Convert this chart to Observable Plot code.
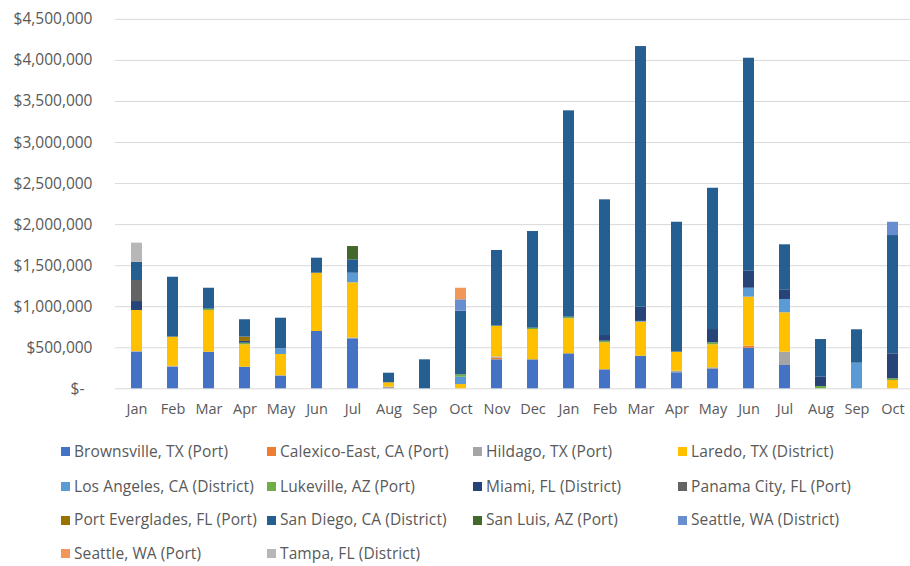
<!DOCTYPE html>
<html>
<head>
<meta charset="utf-8">
<script src="https://cdn.jsdelivr.net/npm/d3@7"></script>
<script src="https://cdn.jsdelivr.net/npm/@observablehq/plot@0.6"></script>
<style>
  html, body { margin: 0; padding: 0; background: #fff; overflow: hidden; }
  #wrap { position: relative; width: 910px; height: 566px; font-family: "Open Sans", sans-serif; }
  #wrap svg { position: absolute; left: 0; top: 0; overflow: visible; }
  .item { position: absolute; display: flex; align-items: center; white-space: nowrap;
          font-size: 15.5px; letter-spacing: 0.1px; color: #595959; line-height: 1; }
  .sw { width: 9px; height: 9px; margin-right: 4px; flex: none; }
</style>
</head>
<body>
<div id="wrap"></div>
<script>
// ---- data ----
const monthLabels = ["Jan","Feb","Mar","Apr","May","Jun","Jul","Aug","Sep","Oct","Nov","Dec",
                     "Jan","Feb","Mar","Apr","May","Jun","Jul","Aug","Sep","Oct"];

const seriesNames = [
  "Brownsville, TX (Port)", "Calexico-East, CA (Port)", "Hildago, TX (Port)", "Laredo, TX (District)",
  "Los Angeles, CA (District)", "Lukeville, AZ (Port)", "Miami, FL (District)", "Panama City, FL (Port)",
  "Port Everglades, FL (Port)", "San Diego, CA (District)", "San Luis, AZ (Port)", "Seattle, WA (District)",
  "Seattle, WA (Port)", "Tampa, FL (District)"
];
const seriesColors = [
  "#4472C4", "#ED7D31", "#A5A5A5", "#FFC000",
  "#5B9BD5", "#70AD47", "#264478", "#636363",
  "#997300", "#255E91", "#43682B", "#698ED0",
  "#F1975A", "#B7B7B7"
];

const brownsville    = [446000,263000,446000,263000,150000,698000,609000,0,0,0,353000,353000,426000,223000,397000,195000,235000,495000,284000,0,0,0];
const calexicoEast   = [0,0,0,0,0,0,0,0,0,0,20000,0,0,0,0,0,0,24000,0,0,0,0];
const hildago        = [8000,10000,0,0,10000,0,10000,20000,0,0,15000,0,0,12000,0,19000,21000,0,162000,0,0,0];
const laredo         = [500000,356000,508000,273000,258000,710000,672000,53000,0,52000,375000,369000,427000,325000,414000,232000,280000,597000,480000,0,0,101000];
const losAngeles     = [0,0,0,0,69000,0,117000,0,0,89000,0,0,0,0,10000,0,0,109000,162000,0,312000,0];
const lukeville      = [0,0,16000,20000,0,0,0,0,0,29000,0,16000,19000,20000,0,0,24000,0,0,28000,0,21000];
const miami          = [109000,0,0,21000,0,0,0,0,0,0,0,0,0,69000,173000,0,162000,207000,118000,113000,0,304000];
const panamaCity     = [256000,0,0,0,0,0,0,0,0,0,0,0,0,0,0,0,0,0,0,0,0,0];
const portEverglades = [0,0,0,53000,0,0,0,0,0,0,0,0,0,0,0,0,0,0,0,0,0,0];
const sanDiego       = [223000,730000,255000,211000,373000,183000,163000,117000,353000,775000,922000,1178000,2514000,1653000,3175000,1583000,1721000,2595000,548000,459000,407000,1441000];
const sanLuis        = [0,0,0,0,0,0,162000,0,0,0,0,0,0,0,0,0,0,0,0,0,0,0];
const seattleDist    = [0,0,0,0,0,0,0,0,0,139000,0,0,0,0,0,0,0,0,0,0,0,162000];
const seattlePort    = [0,0,0,0,0,0,0,0,0,141000,0,0,0,0,0,0,0,0,0,0,0,0];
const tampa          = [232000,0,0,0,0,0,0,0,0,0,0,0,0,0,0,0,0,0,0,0,0,0];

const yTicks = [0,500000,1000000,1500000,2000000,2500000,3000000,3500000,4000000,4500000];

// ---- build table ----
const seriesValues = [brownsville, calexicoEast, hildago, laredo, losAngeles, lukeville, miami,
  panamaCity, portEverglades, sanDiego, sanLuis, seattleDist, seattlePort, tampa];
const rows = [];
seriesNames.forEach((name, s) => {
  seriesValues[s].forEach((v, i) => rows.push({i, series: name, value: v}));
});

const textColor = "#595959";
const fmt = d3.format(",");

const plot = Plot.plot({
  width: 910,
  height: 430,
  marginLeft: 115,
  marginRight: 0,
  marginTop: 0,
  marginBottom: 42,
  style: {fontFamily: "'Open Sans', sans-serif", fontSize: "14px", color: textColor, background: "transparent"},
  x: {domain: d3.range(22), range: [114.5, 914.5], paddingInner: 0.7, paddingOuter: 0.35, label: null},
  y: {domain: [0, 4500000], range: [388.3, 18.9], label: null},
  color: {domain: seriesNames, range: seriesColors},
  marks: [
    Plot.gridY(yTicks, {stroke: "#D9D9D9", strokeOpacity: 1, strokeWidth: 1}),
    Plot.barY(rows, {x: "i", y: "value", fill: "series", order: seriesNames, inset: 0}),
    Plot.axisX({tickSize: 0, tickPadding: 15, tickFormat: i => monthLabels[i], fill: textColor, fontSize: 14.5}),
    Plot.axisY(yTicks, {tickSize: 0, tickPadding: 23, fill: textColor, fontSize: 15.5,
      tickFormat: d => d === 0 ? "$-\u00a0\u00a0" : "$" + fmt(d)})
  ]
});

const wrap = document.getElementById("wrap");
wrap.appendChild(plot);

// ---- legend ----
const colX = [61, 267, 473, 678];
const rowY = [451.7, 486.7, 520, 553.3];
seriesNames.forEach((name, k) => {
  const c = k % 4, r = Math.floor(k / 4);
  const div = document.createElement("div");
  div.className = "item";
  div.style.left = colX[c] + "px";
  div.style.top = (rowY[r] - 8) + "px";
  div.style.height = "16px";
  const sw = document.createElement("span");
  sw.className = "sw";
  sw.style.background = seriesColors[k];
  const tx = document.createElement("span");
  tx.textContent = name;
  div.appendChild(sw);
  div.appendChild(tx);
  wrap.appendChild(div);
});
</script>
</body>
</html>
